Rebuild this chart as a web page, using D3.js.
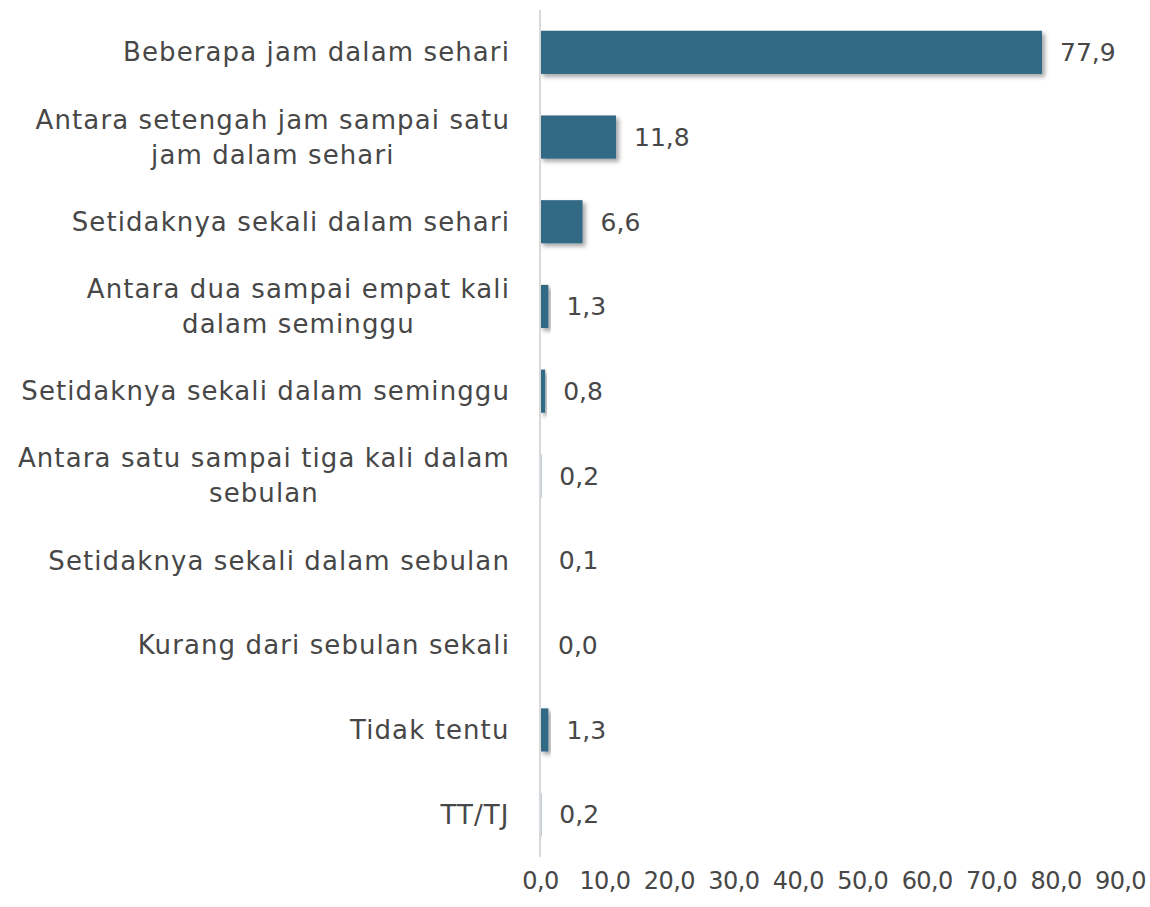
<!DOCTYPE html>
<html>
<head>
<meta charset="utf-8">
<script src="https://cdn.jsdelivr.net/npm/d3@7"></script>
<style>
  body { margin: 0; background: #fff; }
  text { font-family: "DejaVu Sans", sans-serif; fill: #474747; }
</style>
</head>
<body>
<svg id="chart" width="1150" height="907"></svg>
<script>
// categories, one entry per line of the label
var categories = [
    ['Beberapa jam dalam sehari'],
    ['Antara setengah jam sampai satu', 'jam dalam sehari'],
    ['Setidaknya sekali dalam sehari'],
    ['Antara dua sampai empat kali', 'dalam seminggu'],
    ['Setidaknya sekali dalam seminggu'],
    ['Antara satu sampai tiga kali dalam', 'sebulan'],
    ['Setidaknya sekali dalam sebulan'],
    ['Kurang dari sebulan sekali'],
    ['Tidak tentu'],
    ['TT/TJ']
];
var values = [77.9, 11.8, 6.6, 1.3, 0.8, 0.2, 0.1, 0.0, 1.3, 0.2];
var ticks = [0, 10, 20, 30, 40, 50, 60, 70, 80, 90];

var fmt = function (d) { return d3.format('.1f')(d).replace('.', ','); };

var svg = d3.select('#chart'),
    margin = {top: 10, right: 30, bottom: 50, left: 540},
    width = 1150 - margin.left - margin.right,
    height = 907 - margin.top - margin.bottom,
    g = svg.append('g').attr('transform', 'translate(' + margin.left + ',' + margin.top + ')');

var x = d3.scaleLinear().domain([0, 90]).range([0, 580]);
var y = d3.scaleBand().domain(d3.range(values.length)).range([0, height]).paddingInner(0.49).paddingOuter(0.245);

var defs = svg.append('defs');
var f = defs.append('filter').attr('id', 'shadow').attr('x', '-20%').attr('y', '-20%').attr('width', '150%').attr('height', '150%');
f.append('feDropShadow').attr('dx', 3).attr('dy', 3).attr('stdDeviation', 2)
    .attr('flood-color', '#000').attr('flood-opacity', 0.35);

// bars
g.selectAll('rect.bar')
    .data(values)
    .enter().append('rect')
    .attr('class', 'bar')
    .attr('x', x(0))
    .attr('y', function (d, i) { return y(i); })
    .attr('width', function (d) { return x(d) - x(0); })
    .attr('height', y.bandwidth())
    .attr('fill', '#336985')
    .attr('filter', 'url(#shadow)');

// value labels
g.selectAll('text.val')
    .data(values)
    .enter().append('text')
    .attr('class', 'val')
    .attr('x', function (d) { return x(d) + 18; })
    .attr('y', function (d, i) { return y(i) + y.bandwidth() / 2; })
    .attr('dy', '0.35em')
    .style('font-size', '25px')
    .text(fmt);

// axis line
g.append('line')
    .attr('x1', 0).attr('x2', 0)
    .attr('y1', 0).attr('y2', height)
    .attr('stroke', '#d9d9d9')
    .attr('stroke-width', 2);

// category labels, right-aligned block, centred lines
var lab = g.selectAll('g.cat')
    .data(categories)
    .enter().append('g')
    .attr('class', 'cat');

lab.each(function (lines, i) {
    var node = d3.select(this);
    var t = node.append('text')
        .style('font-size', '26px')
        .style('letter-spacing', '1.1px')
        .attr('text-anchor', 'middle');
    var lh = 35;
    var y0 = y(i) + y.bandwidth() / 2 - (lines.length - 1) * lh / 2;
    lines.forEach(function (s, k) {
        t.append('tspan').attr('x', 0).attr('y', y0 + k * lh).attr('dy', '0.35em').text(s);
    });
    var w = t.node().getBBox().width;
    t.attr('transform', 'translate(' + (-30 - w / 2) + ',0)');
});

// x axis labels
var xAxis = g.append('g')
    .attr('transform', 'translate(0,' + (height + 12) + ')')
    .call(d3.axisBottom(x).tickValues(ticks).tickFormat(fmt).tickSize(0));
xAxis.select('.domain').remove();
xAxis.selectAll('text')
    .style('font-size', '24px')
    .style('font-family', '"DejaVu Sans", sans-serif')
    .style('letter-spacing', '-0.6px')
    .attr('fill', '#474747');
</script>
</body>
</html>
